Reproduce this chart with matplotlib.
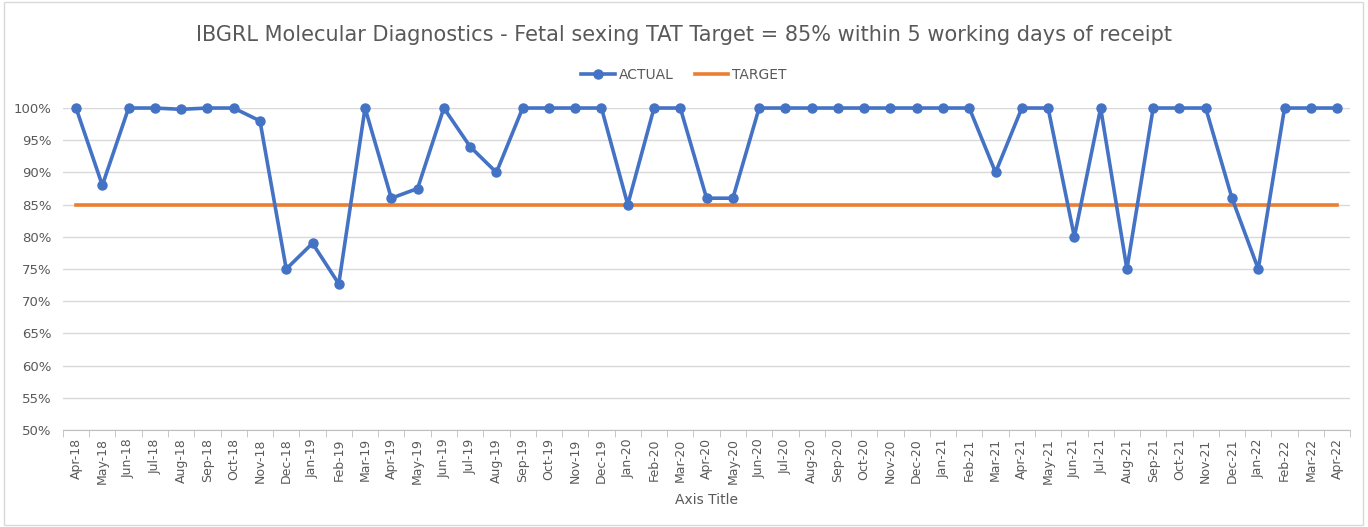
import matplotlib.pyplot as plt
from matplotlib.patches import Rectangle
from matplotlib.ticker import PercentFormatter, FixedLocator

# month labels Apr-18 .. Apr-22
months = ['Apr-18', 'May-18', 'Jun-18', 'Jul-18', 'Aug-18', 'Sep-18', 'Oct-18', 'Nov-18',
          'Dec-18', 'Jan-19', 'Feb-19', 'Mar-19', 'Apr-19', 'May-19', 'Jun-19', 'Jul-19',
          'Aug-19', 'Sep-19', 'Oct-19', 'Nov-19', 'Dec-19', 'Jan-20', 'Feb-20', 'Mar-20',
          'Apr-20', 'May-20', 'Jun-20', 'Jul-20', 'Aug-20', 'Sep-20', 'Oct-20', 'Nov-20',
          'Dec-20', 'Jan-21', 'Feb-21', 'Mar-21', 'Apr-21', 'May-21', 'Jun-21', 'Jul-21',
          'Aug-21', 'Sep-21', 'Oct-21', 'Nov-21', 'Dec-21', 'Jan-22', 'Feb-22', 'Mar-22',
          'Apr-22']

actual = [100, 88, 100, 100, 99.8, 100, 100, 98,
          75, 79, 72.7, 100, 86, 87.5, 100, 94,
          90, 100, 100, 100, 100, 85, 100, 100,
          86, 86, 100, 100, 100, 100, 100, 100,
          100, 100, 100, 90, 100, 100, 80, 100,
          75, 100, 100, 100, 86, 75, 100, 100,
          100]

target = [85] * len(months)

grey = '#595959'
x = list(range(len(months)))

fig = plt.figure(figsize=(13.68, 5.27), dpi=100)
ax = fig.add_axes([0.046, 0.184, 0.941, 0.611])

ax.plot(x, actual, color='#4472C4', lw=2.6, marker='o', ms=6.5, label='ACTUAL',
        zorder=3, clip_on=False)
ax.plot(x, target, color='#ED7D31', lw=2.6, label='TARGET', zorder=2)

ax.set_xlim(-0.5, len(months) - 0.5)
ax.set_ylim(50, 100)
ax.set_yticks(range(50, 101, 5))
ax.yaxis.set_major_formatter(PercentFormatter(decimals=0))
ax.grid(axis='y', color='#D9D9D9', lw=1)
ax.set_axisbelow(True)

ax.set_xticks(x)
ax.set_xticklabels(months, rotation=90, fontsize=9, color=grey)
ax.tick_params(axis='x', which='major', length=0, pad=6)
ax.xaxis.set_minor_locator(FixedLocator([i - 0.5 for i in range(len(months) + 1)]))
ax.tick_params(axis='x', which='minor', length=5, color='#BFBFBF')
ax.tick_params(axis='y', length=0, labelsize=9.5, labelcolor=grey, pad=8)

for s in ['top', 'right', 'left']:
    ax.spines[s].set_visible(False)
ax.spines['bottom'].set_color('#BFBFBF')

ax.set_xlabel('Axis Title', fontsize=10, color=grey, labelpad=6)

fig.text(0.5, 0.934, 'IBGRL Molecular Diagnostics - Fetal sexing TAT Target = 85% within 5 working days of receipt',
         ha='center', va='center', fontsize=15, color=grey)
fig.legend(loc='center', bbox_to_anchor=(0.5, 0.858), ncol=2, frameon=False,
           fontsize=10, labelcolor=grey, handlelength=2.4, columnspacing=1.5, handletextpad=0.3)

fig.patches.append(Rectangle((0.003, 0.004), 0.993, 0.992, transform=fig.transFigure,
                             fill=False, edgecolor='#D9D9D9', lw=1))

fig.savefig('out.png', dpi=100)
